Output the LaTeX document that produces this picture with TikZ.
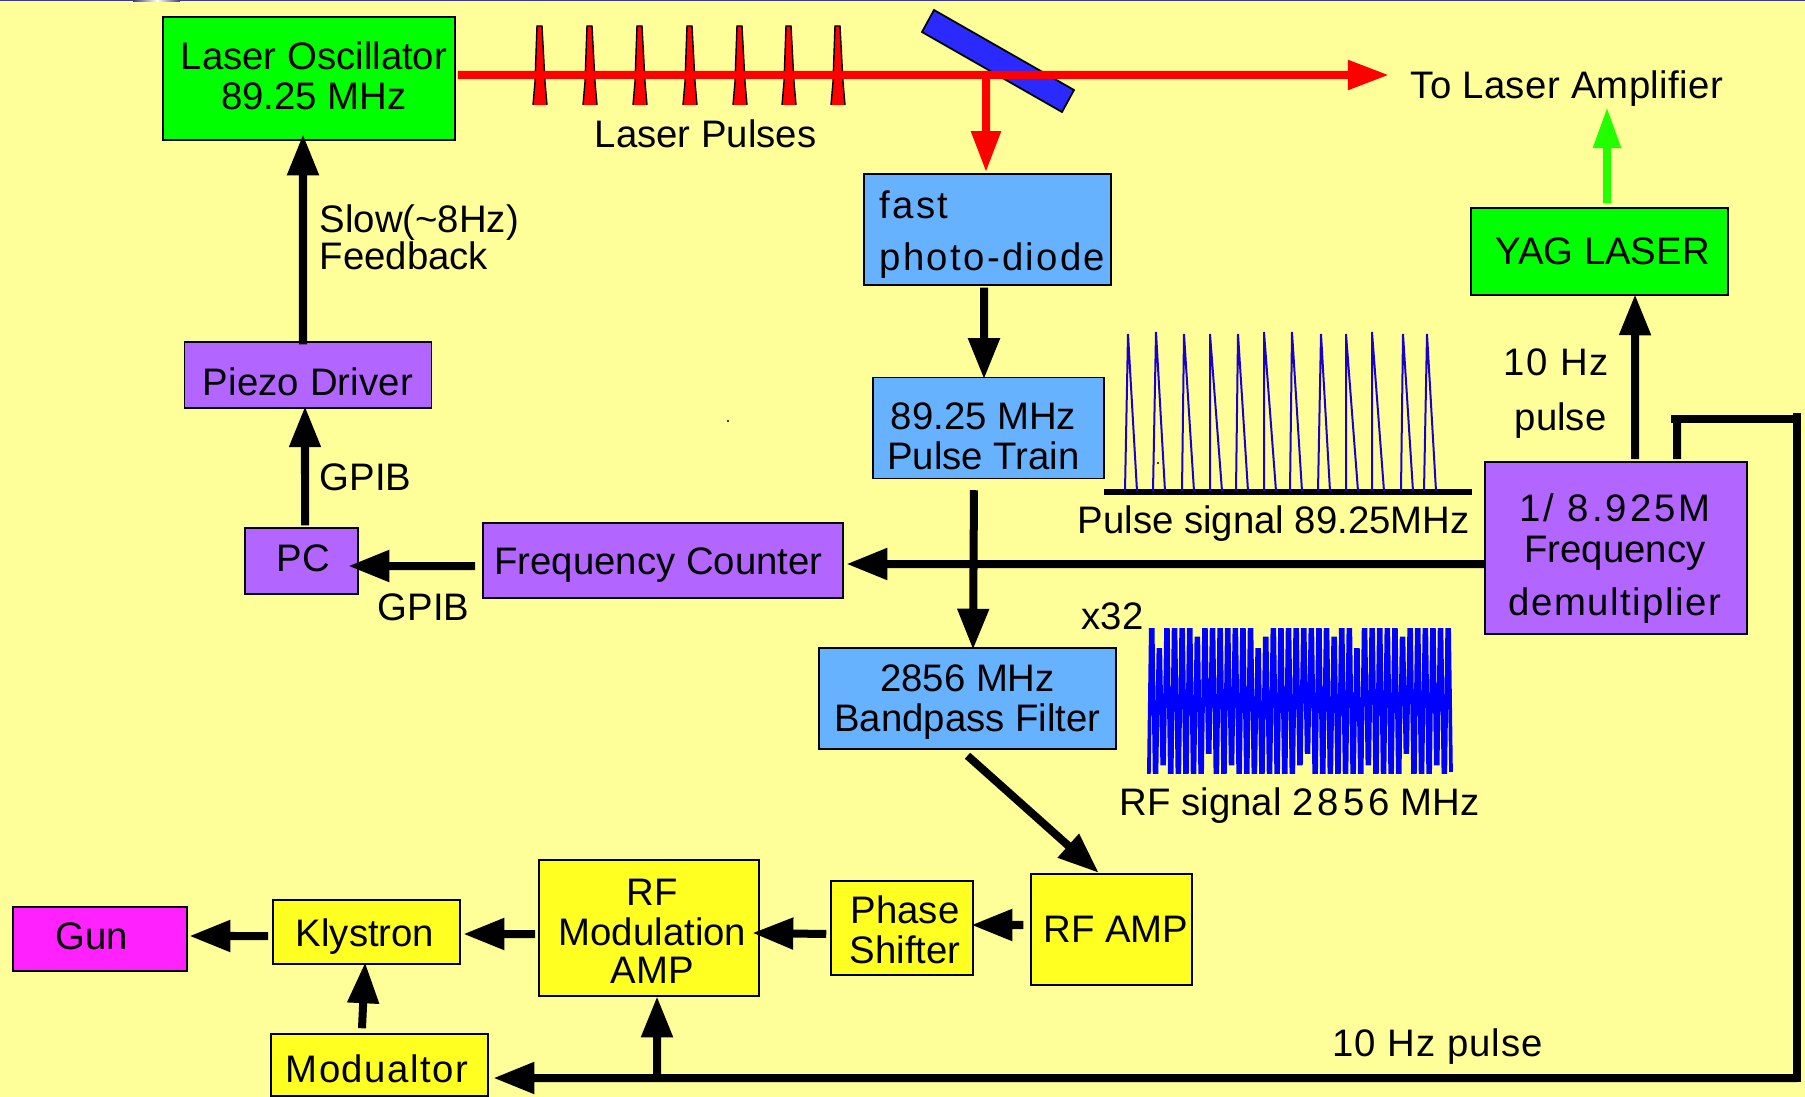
\documentclass[tikz,border=0pt]{standalone}
\usepackage{fontspec}
\setmainfont{Liberation Sans}
\usepackage{xcolor}
\usetikzlibrary{arrows.meta}

\definecolor{paleyellow}{HTML}{FFFF99}
\definecolor{lasergreen}{HTML}{00FF00}
\definecolor{skyblue}{HTML}{66B2FF}
\definecolor{violet}{HTML}{B266FF}
\definecolor{boxyellow}{HTML}{FFFF22}
\definecolor{gunmagenta}{HTML}{FF22FF}
\definecolor{mirrorblue}{HTML}{2A2AFF}
\definecolor{pulseblue}{HTML}{1A00CC}
\definecolor{beamgreen}{HTML}{22FF00}
\definecolor{topnavy}{HTML}{3A3A8A}
\newcommand{\spaced}[2]{{\addfontfeature{LetterSpace=#1}#2}}

\tikzset{
    every label/.style={inner sep=0pt, align=center, font=\fontsize{10.9}{11.4}\selectfont},
    box/.style={draw=black, line width=.4pt, inner sep=0pt},
    greenbox/.style={box, fill=lasergreen},
    bluebox/.style={box, fill=skyblue},
    purplebox/.style={box, fill=violet},
    yellowbox/.style={box, fill=boxyellow},
    caption/.style={anchor=base west, inner sep=0pt, font=\fontsize{10.9}{11.4}\selectfont},
    signal/.style={line width=.08cm, shorten >=-.025cm, -{Triangle[length=.41cm,width=.3cm]}},
    beam/.style={red, line width=.08cm, -{Triangle[length=.41cm,width=.28cm]}}
}

\begin{document}
\begin{tikzpicture}[x=.01cm, y=-.01cm]
    % Background
    \fill[paleyellow] (0,0) rectangle (1805,1097);
    \useasboundingbox (0,0) rectangle (1805,1097);
    \fill[topnavy] (0,0) rectangle (1805,1.5);
    \shade[left color=topnavy, right color=white] (133,0) rectangle (157,1.5);
    \shade[left color=white, right color=topnavy] (157,0) rectangle (180,1.5);

    % Laser pulses
    \foreach \x in {540,590,640,690,740,789,838} {
        \filldraw[fill=red, draw=black, line width=.4pt] (\x-7,105) -- (\x-5,82) -- (\x-3,26) -- (\x+2,26) -- (\x+5,82) -- (\x+7,105);
    }

    % Mirror
    \filldraw[fill=mirrorblue, draw=black, line width=.5pt] (934,10) -- (922,32) -- (1062,112) -- (1074,90) -- cycle;

    % Boxes
    \node[greenbox, minimum width=2.92cm, minimum height=1.23cm, label={[xshift=.05cm,yshift=.03cm]center:Laser Oscillator\\89.25 MHz}] (laser) at (309,78.5) {};
    \node[greenbox, minimum width=2.57cm, minimum height=.87cm, label={[xshift=.03cm]center:YAG LASER}] (yag) at (1599.5,251.5) {};
    \node[bluebox, minimum width=2.47cm, minimum height=1.11cm, label={[align=left,xshift=.05cm,yshift=-.05cm]center:\spaced{6}{fast}\\[.12cm]\spaced{6}{photo-diode}}] (diode) at (987.5,229.5) {};
    \node[bluebox, minimum width=2.31cm, minimum height=1.01cm, label={[xshift=-.05cm,yshift=-.085cm]center:89.25 MHz\\Pulse Train}] (train) at (988.5,428) {};
    \node[bluebox, minimum width=2.97cm, minimum height=1.01cm, label={[yshift=-.04cm]center:2856 MHz\\Bandpass Filter}] (filter) at (967.5,698.5) {};
    \node[purplebox, minimum width=2.47cm, minimum height=.66cm, label={[yshift=-.07cm]center:\spaced{.5}{Piezo Driver}}] (piezo) at (308,375) {};
    \node[purplebox, minimum width=1.13cm, minimum height=.66cm, label={[xshift=.02cm,yshift=.025cm]center:PC}] (pc) at (301.5,561) {};
    \node[purplebox, minimum width=3.6cm, minimum height=.75cm, label={[xshift=-.045cm,yshift=-.045cm]center:Frequency Counter}] (counter) at (663,560.5) {};
    \node[purplebox, minimum width=2.62cm, minimum height=1.72cm, label={[xshift=-.01cm,yshift=-.105cm]center:\spaced{8}{1/ 8.925M}\\[.01cm]Frequency\\[.12cm]\spaced{4}{demultiplier}}] (demult) at (1616,548) {};
    \node[yellowbox, minimum width=1.61cm, minimum height=1.11cm, label={[xshift=.045cm]center:RF AMP}] (rfamp) at (1111.5,929.5) {};
    \node[yellowbox, minimum width=1.42cm, minimum height=.94cm, label={[xshift=.03cm,yshift=-.02cm]center:Phase\\Shifter}] (phase) at (902,928) {};
    \node[yellowbox, minimum width=2.2cm, minimum height=1.36cm, label={[xshift=.035cm,yshift=-.03cm]center:RF\\Modulation\\[-.02cm]AMP}] (rfmod) at (649,928) {};
    \node[yellowbox, minimum width=1.87cm, minimum height=.64cm, label={[xshift=-.015cm,yshift=-.045cm]center:Klystron}] (klystron) at (366.5,932) {};
    \node[box, fill=gunmagenta, minimum width=1.74cm, minimum height=.64cm, label={[xshift=-.08cm,yshift=.025cm]center:Gun}] (gun) at (100,939) {};
    \node[yellowbox, minimum width=2.17cm, minimum height=.62cm, label={[xshift=-.025cm,yshift=-.035cm]center:\spaced{4}{Modualtor}}] (modulator) at (379.5,1065) {};

    % Captions
    \node[caption] (pulses) at (594,148) {Laser Pulses};
    \node[caption] (toamp) at (1410,99) {\spaced{1}{To Laser Amplifier}};
    \node[caption] (slow) at (319,233) {Slow(\char`\~8Hz)};
    \node[caption] (feedback) at (319,270) {Feedback};
    \node[caption] (gpibup) at (319,491) {GPIB};
    \node[caption] (gpibleft) at (377,620) {GPIB};
    \node[caption] (tenhz) at (1503,376) {\spaced{4}{10 Hz}};
    \node[caption] (pulse) at (1514,431) {pulse};
    \node[caption] (pulsesig) at (1077,533) {Pulse signal 89.25MHz};
    \node[caption] (times) at (1081,629) {x32};
    \node[caption] (rfsig) at (1119,815) {RF signal \spaced{11}{2856} MHz};
    \node[caption] (buspulse) at (1332,1056) {\spaced{2.5}{10 Hz pulse}};

    % Pulse signal
    \draw[black, line width=.05cm] (1104,492) -- (1472,492);
    \foreach \a/\b/\c/\t in {1125/1128/1137/334, 1153/1156/1165/332, 1182/1184/1194/334, 1210/1210/1222/334,
        1236/1238/1248/334, 1264/1264/1276/332, 1290/1292/1302/332, 1318/1321/1330/334,
        1346/1346/1358/334, 1372/1372/1384/332, 1401/1403/1413/334, 1424/1427/1436/334} {
        \draw[pulseblue, line width=.02cm] (\a,491) -- (\b,\t) -- (\c,491);
    }
    \fill (728,421) circle (.012cm);
    \fill (1158,463) circle (.012cm);

    % RF signal
    \draw[blue, line width=.037cm, line join=miter] plot[samples=161, domain=0:160]
        (1147+1.9*\x, {701+(mod(round(\x),4)<2?71:-71)*(mod(floor(\x/2),13)==3?0.72:(mod(floor(\x/2),9)==4?0.88:1))});

    % Laser beam
    \coordinate (split) at (986,75);
    \coordinate (beamend) at (1389,75);
    \coordinate (greentip) at (1607,107);
    \draw[beam] ([xshift=.02cm,yshift=.035cm]laser.east) -- (beamend);
    \draw[beam] (split) -- ([xshift=-.015cm,yshift=.01cm]diode.north);
    \draw[beamgreen, line width=.08cm, -{Triangle[length=.41cm,width=.26cm]}] ([xshift=.075cm,yshift=.04cm]yag.north) -- (greentip);

    % Signal chain
    \draw[signal] ([xshift=-.05cm,yshift=-.03cm]piezo.north) -- ([xshift=-.06cm,yshift=.04cm]laser.south);
    \draw[signal] ([xshift=.035cm,yshift=.02cm]pc.north) -- ([xshift=-.03cm]piezo.south);
    \draw[signal] ([xshift=-.07cm,yshift=-.055cm]counter.west) -- ([xshift=-.08cm,yshift=-.05cm]pc.east);
    \draw[signal] ([yshift=-.16cm]demult.west) -- ([xshift=.05cm,yshift=-.035cm]counter.east);
    \draw[signal] ([xshift=-.035cm,yshift=-.02cm]diode.south) -- ([xshift=-.045cm]train.north);
    \draw[signal] ([xshift=-.145cm,yshift=-.11cm]train.south) -- ([xshift=.055cm]filter.north);
    \draw[signal] ([yshift=-.06cm]filter.south) -- ([xshift=-.145cm,yshift=.02cm]rfamp.north);
    \draw[signal] ([xshift=-.07cm,yshift=.045cm]rfamp.west) -- ([yshift=.03cm]phase.east);
    \draw[signal] ([xshift=-.04cm,yshift=-.06cm]phase.west) -- ([xshift=-.05cm,yshift=-.05cm]rfmod.east);
    \draw[signal] ([xshift=-.03cm,yshift=-.06cm]rfmod.west) -- ([xshift=.05cm,yshift=-.02cm]klystron.east);
    \draw[signal] ([xshift=-.04cm,yshift=-.04cm]klystron.west) -- ([xshift=.04cm,yshift=.03cm]gun.east);
    \draw[signal] ([xshift=-.175cm,yshift=.05cm]modulator.north) -- ([xshift=-.015cm]klystron.south);
    \draw[signal] ([xshift=.19cm,yshift=.02cm]demult.north) -- ([xshift=.355cm,yshift=-.01cm]yag.south);

    % 10 Hz bus
    \coordinate (busleft) at (1677,419);
    \coordinate (busright) at (1797,419);
    \coordinate (buscorner) at (1797,1078);
    \coordinate (busjoin) at (657,1078);
    \draw[line width=.08cm] ([xshift=.61cm,yshift=.02cm]demult.north) -- (busleft);
    \draw[line width=.08cm] ([xshift=-.06cm]busleft) -- (busright);
    \draw[line width=.08cm] ([yshift=.06cm]busright) -- ([yshift=-.04cm]buscorner);
    \draw[signal] (buscorner) -- ([xshift=.07cm,yshift=-.13cm]modulator.east);
    \draw[signal] (busjoin) -- ([xshift=.08cm,yshift=-.02cm]rfmod.south);
\end{tikzpicture}
\end{document}
